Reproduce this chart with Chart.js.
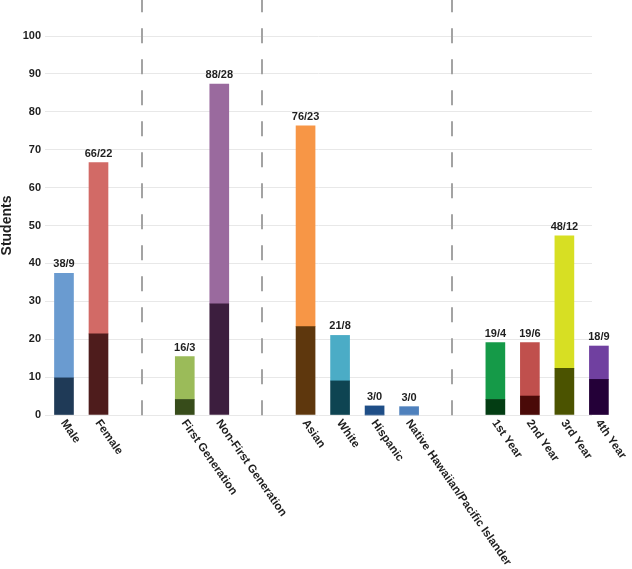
<!DOCTYPE html>
<html lang="en">
<head>
    <meta charset="UTF-8">
    <title>Students</title>
    <style>
        body {
            margin: 0;
            background: #fff;
        }

        .chart-box {
            position: relative;
            width: 632px;
            height: 569px;
        }
    </style>
</head>
<body>
    <div class="chart-box">
        <canvas id="studentsChart"></canvas>
    </div>
    <script src="https://cdn.jsdelivr.net/npm/chart.js"></script>
    <script>
        const categories = ['Male', 'Female', 'First Generation', 'Non-First Generation', 'Asian', 'White',
            'Hispanic', 'Native Hawaiian/Pacific Islander', '1st Year', '2nd Year', '3rd Year', '4th Year'];
        const groupOf = [0, 0, 1, 1, 2, 2, 2, 2, 3, 3, 3, 3];

        // bar heights as drawn, and the text printed above each bar
        const totalValues = [37.4, 66.6, 15.4, 87.3, 76.3, 21.0, 2.4, 2.2, 19.1, 19.1, 47.3, 18.2];
        const darkValues = [9.8, 21.4, 4.1, 29.3, 23.3, 9.0, 0, 0, 4.1, 5.0, 12.3, 9.4];
        const valueLabels = ['38/9', '66/22', '16/3', '88/28', '76/23', '21/8', '3/0', '3/0', '19/4', '19/6', '48/12', '18/9'];

        const lightColors = ['#6a9bd0', '#d26a66', '#9bbb59', '#9a6a9e', '#f79646', '#4bacc6',
            '#1f4e87', '#4f81bd', '#159a48', '#c0504d', '#d7df23', '#7040a0'];
        const darkColors = ['#1f3a57', '#4e1c1c', '#374c1a', '#3c1e3e', '#5e370d', '#0e4452',
            '#1f4e87', '#4f81bd', '#033d13', '#4a0a08', '#4b5300', '#240038'];

        const yTicks = { min: 0, max: 100, step: 10 };

        const GROUP_GAP = 1.5; // extra empty space between groups, in bar slots
        const positions = categories.map((c, i) => i + groupOf[i] * GROUP_GAP);

        const font = "'Liberation Sans', Arial, sans-serif";
        Chart.defaults.font.family = font;

        const overlay = {
            id: 'overlay',
            afterDatasetsDraw(chart) {
                const ctx = chart.ctx;
                const xs = chart.scales.x;
                const ys = chart.scales.y;
                const area = chart.chartArea;
                ctx.save();

                // dashed separators between groups
                ctx.strokeStyle = '#a3a3a3';
                ctx.lineWidth = 2;
                ctx.setLineDash([15, 16]);
                for (let i = 1; i < categories.length; i++) {
                    if (groupOf[i] !== groupOf[i - 1]) {
                        const x = Math.round(xs.getPixelForValue((positions[i] + positions[i - 1]) / 2));
                        ctx.beginPath();
                        ctx.moveTo(x, -2.7);
                        ctx.lineTo(x, area.bottom + 1);
                        ctx.stroke();
                    }
                }
                ctx.setLineDash([]);

                // labels above bars
                ctx.fillStyle = '#1f1f1f';
                ctx.font = 'bold 11px ' + font;
                ctx.textAlign = 'center';
                ctx.textBaseline = 'alphabetic';
                categories.forEach((c, i) => {
                    const x = xs.getPixelForValue(positions[i]);
                    const y = ys.getPixelForValue(totalValues[i]);
                    ctx.fillText(valueLabels[i], x, y - 6);
                });

                // rotated category labels
                ctx.font = 'bold 11.5px ' + font;
                ctx.textAlign = 'left';
                ctx.textBaseline = 'middle';
                categories.forEach((c, i) => {
                    const x = xs.getPixelForValue(positions[i]);
                    ctx.save();
                    ctx.translate(x - 1, area.bottom + 6);
                    ctx.rotate(55 * Math.PI / 180);
                    ctx.fillText(c, 0, 0);
                    ctx.restore();
                });

                ctx.restore();
            }
        };

        const ctx = document.getElementById('studentsChart').getContext('2d');
        new Chart(ctx, {
            type: 'bar',
            data: {
                datasets: [
                    {
                        label: 'dark',
                        data: darkValues.map((v, i) => ({ x: positions[i], y: v })),
                        backgroundColor: darkColors,
                        barThickness: 19,
                        clip: false,
                    },
                    {
                        label: 'light',
                        data: totalValues.map((v, i) => ({ x: positions[i], y: v - darkValues[i] })),
                        backgroundColor: lightColors,
                        barThickness: 19,
                        clip: false,
                    },
                ],
            },
            options: {
                animation: false,
                responsive: true,
                maintainAspectRatio: false,
                layout: {
                    padding: { top: 36, bottom: 154, left: 0, right: 40 },
                },
                plugins: {
                    legend: { display: false },
                    tooltip: { enabled: false },
                },
                scales: {
                    x: {
                        type: 'linear',
                        stacked: true,
                        display: false,
                        offset: false,
                        min: -0.55,
                        max: 15.3,
                    },
                    y: {
                        stacked: true,
                        min: yTicks.min,
                        max: yTicks.max,
                        border: { display: false },
                        grid: {
                            color: '#e8e8e8',
                            drawTicks: false,
                        },
                        ticks: {
                            stepSize: yTicks.step,
                            padding: 4,
                            color: '#1f1f1f',
                            font: { size: 11, weight: 'bold' },
                        },
                        title: {
                            display: true,
                            text: 'Students',
                            color: '#1f1f1f',
                            font: { size: 14, weight: 'bold' },
                            padding: { top: -1, bottom: 0 },
                        },
                        afterFit(scale) {
                            scale.width = 45;
                        },
                    },
                },
            },
            plugins: [overlay],
        });
    </script>
</body>
</html>
